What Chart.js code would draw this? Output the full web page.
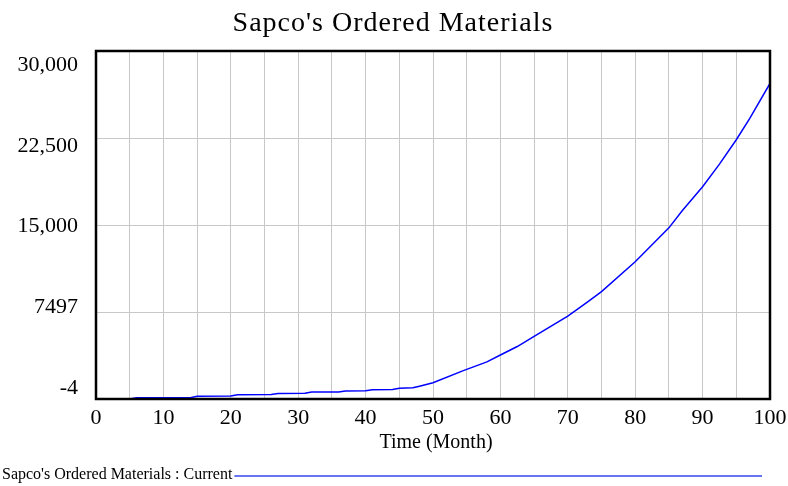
<!DOCTYPE html>
<html>
<head>
<meta charset="utf-8">
<script src="https://cdn.jsdelivr.net/npm/chart.js@4/dist/chart.umd.min.js"></script>
<style>
  html, body { margin: 0; padding: 0; background: #fff; }
  #wrap { width: 788px; height: 486px; }
</style>
</head>
<body>
<div id="wrap"><canvas id="chart" width="788" height="486"></canvas></div>
<script>
// values
const months = [0, 5, 6, 14, 15, 20, 21, 26, 27, 31, 32, 36, 37, 40, 41, 44, 45, 47, 48, 50,
  54.5, 58, 60, 62.5, 65, 70, 73, 75, 80, 85, 87, 90, 92.5, 95, 97, 100];
const orderedMaterials = [0, 0, 100, 110, 230, 250, 370, 380, 470, 490, 600, 610, 690, 700, 800, 820, 920, 960, 1100, 1400,
  2440, 3200, 3790, 4520, 5400, 7150, 8400, 9250, 11830, 14750, 16250, 18300, 20250, 22350, 24190, 27200];

const yTickValues = [-4, 7497, 14998, 22499, 30000];
const yTickLabels = ["-4", "7497", "15,000", "22,500", "30,000"];

const chartTitle = "Sapco's Ordered Materials";
const xAxisTitle = "Time (Month)";
const legendLabel = "Sapco's Ordered Materials : Current";

const serif = "'Liberation Serif', 'Times New Roman', serif";
const lineBlue = "#0000ff";

const decorations = {
  id: "decorations",
  afterDraw(chart) {
    const { ctx, chartArea } = chart;
    ctx.save();
    // frame around plot
    ctx.strokeStyle = "#000";
    ctx.lineWidth = 2.5;
    ctx.strokeRect(chartArea.left, chartArea.top, chartArea.right - chartArea.left, chartArea.bottom - chartArea.top);

    ctx.fillStyle = "#000";
    ctx.textAlign = "center";
    ctx.textBaseline = "alphabetic";
    ctx.font = "28px " + serif;
    ctx.letterSpacing = "1px";
    ctx.fillText(chartTitle, 393, 31);
    ctx.letterSpacing = "0px";

    ctx.font = "20px " + serif;
    ctx.fillText(xAxisTitle, (chartArea.left + chartArea.right) / 2 + 3, 448);

    // legend
    ctx.textAlign = "left";
    ctx.font = "16px " + serif;
    ctx.fillText(legendLabel, 2, 479);
    const w = ctx.measureText(legendLabel).width;
    ctx.strokeStyle = "#3344ee";
    ctx.lineWidth = 1.5;
    ctx.beginPath();
    ctx.moveTo(2 + w + 2, 476);
    ctx.lineTo(762, 476);
    ctx.stroke();
    ctx.restore();
  }
};

new Chart(document.getElementById("chart"), {
  type: "line",
  data: {
    datasets: [{
      label: legendLabel,
      data: months.map((m, i) => ({ x: m, y: orderedMaterials[i] })),
      borderColor: lineBlue,
      borderWidth: 1.5,
      pointRadius: 0,
      tension: 0,
      yAxisID: "y"
    }]
  },
  options: {
    responsive: false,
    animation: false,
    layout: { padding: { top: 51, right: 18, left: 0, bottom: 0 } },
    plugins: {
      legend: { display: false },
      title: { display: false },
      tooltip: { enabled: false }
    },
    scales: {
      x: {
        type: "linear",
        min: 0,
        max: 100,
        border: { display: false },
        grid: { color: "#c8c8c8", lineWidth: 1, drawTicks: false },
        ticks: {
          stepSize: 5,
          autoSkip: false,
          maxRotation: 0,
          padding: 6,
          color: "#000",
          font: { family: serif, size: 22 },
          callback: (v) => (v % 10 === 0 ? String(v) : "")
        },
        afterFit(scale) {
          scale.height = 87;
          scale.paddingLeft = 0;
          scale.paddingRight = 0;
        }
      },
      y: {
        type: "linear",
        position: "left",
        min: -4,
        max: 30000,
        border: { display: false },
        grid: { color: "#c8c8c8", lineWidth: 1, drawTicks: false },
        ticks: { display: false },
        afterBuildTicks(scale) { scale.ticks = yTickValues.map((v) => ({ value: v })); },
        afterFit(scale) { scale.width = 0; }
      },
      yLabels: {
        type: "linear",
        position: "left",
        min: -1026,
        max: 31300,
        border: { display: false },
        grid: { display: false, drawTicks: false },
        ticks: {
          padding: 18,
          color: "#000",
          font: { family: serif, size: 22 },
          callback: (v) => {
            const i = yTickValues.indexOf(v);
            return i >= 0 ? yTickLabels[i] : "";
          }
        },
        afterBuildTicks(scale) { scale.ticks = yTickValues.map((v) => ({ value: v })); },
        afterFit(scale) { scale.width = 96; }
      }
    }
  },
  plugins: [decorations]
});
</script>
</body>
</html>
